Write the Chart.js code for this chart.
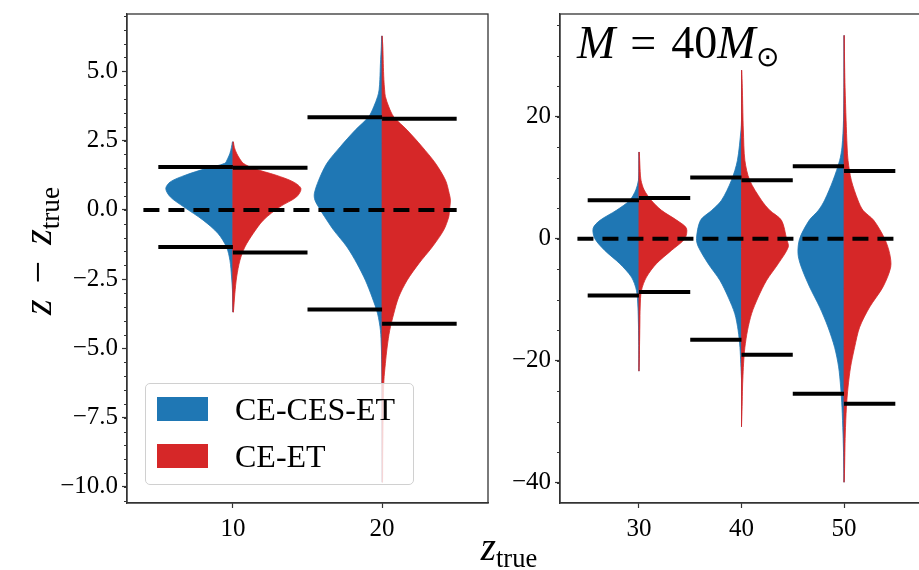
<!DOCTYPE html>
<html>
<head>
<meta charset="utf-8">
<script src="https://cdn.jsdelivr.net/npm/chart.js@4.4.1/dist/chart.umd.min.js"></script>
<style>
  html, body { margin: 0; padding: 0; background: #fff; overflow: hidden; }
  body { width: 919px; height: 570px; position: relative; font-family: "Liberation Serif", serif; color: #000; }
  canvas { position: absolute; top: 0; }
  #leftChart { left: 0; }
  #rightChart { left: 490px; }
  .sub { font-size: 0.68em; position: relative; top: 0.28em; font-style: normal; }
  #ylab { position: absolute; left: 38px; top: 251px; font-size: 40px; line-height: 1; white-space: nowrap;
          transform: translate(-50%, -50%) rotate(-90deg); }
  #xlab { position: absolute; left: 509px; top: 546px; font-size: 39px; line-height: 1; white-space: nowrap;
          transform: translate(-50%, -50%); }
  #title { position: absolute; left: 577px; top: 20px; font-size: 46px; line-height: 1; white-space: nowrap; }
  #legend { position: absolute; left: 145px; top: 383px; width: 269px; height: 102px; box-sizing: border-box;
            border: 1px solid #d0d0d0; border-radius: 5px; background: rgba(255,255,255,0.8); }
  .item { position: absolute; left: 11px; height: 26px; font-size: 32px; line-height: 26px; white-space: nowrap; }
  .sw { display: inline-block; width: 51px; height: 24px; vertical-align: top; margin-top: 1px; margin-right: 27px; }
</style>
</head>
<body>
<canvas id="leftChart" width="500" height="570"></canvas>
<canvas id="rightChart" width="440" height="570"></canvas>

<div id="ylab"><i>z</i><span style="margin:0 16px">−</span><i>z</i><span class="sub">true</span></div>
<div id="xlab"><i>z</i><span class="sub">true</span></div>
<div id="title"><i>M</i><span style="margin:0 15px">=</span>40<i>M</i><span class="sub" style="font-size:0.6em">⊙</span></div>
<div id="legend">
  <div class="item" style="top:12px"><span class="sw" style="background:#1f77b4"></span>CE-CES-ET</div>
  <div class="item" style="top:59px"><span class="sw" style="background:#d62728"></span>CE-ET</div>
</div>

<script>
const BLUE = "#1f77b4";
const RED = "#d62728";

// ---- left panel (z_true = 10, 20) ----
const leftCats = [10, 20];
const leftBlueHi = [1.55, 3.34];
const leftBlueLo = [-1.34, -3.6];
const leftRedHi = [1.52, 3.29];
const leftRedLo = [-1.54, -4.11];
const leftYTicks = [-10, -7.5, -5, -2.5, 0, 2.5, 5];

// violin profiles: y positions and half widths (x units)
const v10Y    = [2.46, 2.25, 2.04, 1.85, 1.68, 1.5, 1.25, 1.01, 0.77, 0.47, 0.11, -0.37, -0.85, -1.34, -1.82, -2.42, -3.02, -3.69];
const v10Blue = [0.03, 0.1, 0.2, 0.35, 0.55, 1.77, 3.2, 4.2, 4.5, 4.2, 3.3, 2.0, 1.0, 0.43, 0.2, 0.09, 0.02, 0];
const v10Red  = [0.03, 0.1, 0.25, 0.45, 0.7, 1.36, 2.9, 4.05, 4.56, 4.27, 3.15, 2.04, 1.36, 0.8, 0.47, 0.25, 0.13, 0.03];

const v20Y    = [6.28, 5.9, 5.29, 4.7, 4.33, 4.09, 3.72, 3.36, 2.88, 2.28, 1.68, 1.07, 0.59, 0.35, 0, -0.25, -0.73, -1.34, -1.94, -2.54, -3.15, -3.75, -4.35, -4.95, -5.55, -6.16, -7.0, -8.0, -9.0, -9.83];
const v20Blue = [0.03, 0.05, 0.11, 0.15, 0.2, 0.3, 0.56, 0.9, 1.8, 2.8, 3.7, 4.25, 4.54, 4.5, 4.14, 3.85, 3.25, 2.35, 1.68, 1.12, 0.67, 0.3, 0.11, 0.05, 0.02, 0, 0, 0, 0, 0];
const v20Red  = [0, 0.05, 0.08, 0.12, 0.17, 0.22, 0.45, 0.78, 1.68, 2.68, 3.58, 4.25, 4.5, 4.58, 4.52, 4.47, 4.13, 3.36, 2.46, 1.68, 1.11, 0.78, 0.51, 0.34, 0.22, 0.12, 0.08, 0.06, 0.04, 0.03];

// ---- right panel (z_true = 30, 40, 50) ----
const rightCats = [30, 40, 50];
const rightBlueHi = [6.3, 10.0, 11.85];
const rightBlueLo = [-9.3, -16.56, -25.4];
const rightRedHi = [6.66, 9.56, 11.1];
const rightRedLo = [-8.75, -19.0, -27.05];
const rightYTicks = [-40, -20, 0, 20];

const v30Y    = [14.2, 12.8, 11, 9.56, 8, 6.28, 4.64, 3.0, 1.7, 0, -1.92, -4.1, -6.3, -8.5, -11.2, -14, -16.1, -19, -21.7];
const v30Blue = [0, 0, 0, 0.05, 0.3, 0.9, 2.2, 3.8, 4.47, 4.3, 3.34, 1.87, 0.73, 0.24, 0.1, 0.05, 0.02, 0, 0];
const v30Red  = [0.03, 0.07, 0.12, 0.2, 0.5, 1.2, 2.2, 3.7, 4.63, 4.47, 3.17, 1.7, 0.73, 0.24, 0.12, 0.09, 0.07, 0.04, 0];

const v40Y    = [27.6, 24.8, 19.4, 17.8, 12.8, 9.56, 6.28, 4.64, 3.0, 0, -1.37, -4.1, -6.84, -9.57, -12.3, -15.0, -17.8, -20.5, -23, -24.3, -27.5, -30.8];
const v40Blue = [0, 0, 0, 0.05, 0.4, 0.98, 1.95, 2.9, 4.0, 4.39, 4.2, 3.25, 2.1, 1.3, 0.65, 0.33, 0.15, 0.07, 0, 0, 0, 0];
const v40Red  = [0.03, 0.08, 0.15, 0.18, 0.33, 0.8, 1.95, 2.76, 3.9, 4.39, 4.56, 3.58, 2.44, 1.63, 0.98, 0.59, 0.33, 0.2, 0.13, 0.1, 0.06, 0];

const v50Y    = [33.3, 28, 24.8, 19.4, 15, 12.8, 9.56, 6.28, 4.64, 3.0, 0, -2.46, -4.65, -7.9, -11.2, -14.5, -17.8, -21.0, -24.3, -27.6, -32, -35, -38.5, -39.9];
const v50Blue = [0, 0, 0, 0.05, 0.2, 0.43, 1.07, 1.9, 2.5, 3.4, 4.33, 4.49, 4.17, 3.36, 2.38, 1.56, 0.92, 0.53, 0.33, 0.2, 0.1, 0.05, 0.01, 0];
const v50Red  = [0.02, 0.06, 0.1, 0.2, 0.3, 0.39, 0.71, 1.36, 1.85, 2.9, 3.96, 4.45, 4.55, 3.8, 2.5, 1.52, 1.03, 0.64, 0.39, 0.23, 0.12, 0.08, 0.04, 0];

const PCT_HALF = 5;           // percentile bars span half a slot
const leftZeroLine = [4, 25];
const rightZeroLine = [24, 55];

const tickFont = { family: "'Liberation Serif', serif", size: 25 };

// half violin as a closed polygon: outer edge down, then back up the centre
function halfViolin(c, ys, ws, side) {
  const pts = ys.map((y, i) => ({ x: c + side * ws[i], y }));
  pts.push({ x: c, y: ys[ys.length - 1] });
  pts.push({ x: c, y: ys[0] });
  return pts;
}

function violinSet(c, ys, ws, side) {
  const color = side < 0 ? BLUE : RED;
  return {
    data: halfViolin(c, ys, ws, side),
    borderColor: color,
    backgroundColor: color,
    borderWidth: 0.8,
    fill: "shape",
    pointRadius: 0,
    tension: 0.3,
    order: side < 0 ? 3 : 2
  };
}

function segment(x0, x1, y, dash) {
  return {
    data: [{ x: x0, y }, { x: x1, y }],
    borderColor: "#000",
    borderWidth: 4,
    borderDash: dash || [],
    borderCapStyle: "butt",
    fill: false,
    pointRadius: 0,
    order: 0
  };
}

function percentileSets(cats, bHi, bLo, rHi, rLo) {
  const out = [];
  cats.forEach((c, i) => {
    out.push(segment(c - PCT_HALF, c, bHi[i]));
    out.push(segment(c - PCT_HALF, c, bLo[i]));
    out.push(segment(c, c + PCT_HALF, rHi[i]));
    out.push(segment(c, c + PCT_HALF, rLo[i]));
  });
  return out;
}

function fmt(v, digits) {
  return (v < 0 ? "\u2212" : "") + Math.abs(v).toFixed(digits);
}

const framePlugin = {
  id: "frame",
  afterDraw(chart, args, opts) {
    const { ctx, chartArea: a, scales } = chart;
    ctx.save();
    ctx.strokeStyle = "#333";
    ctx.lineWidth = 1.3;
    ctx.strokeRect(a.left, a.top, a.right - a.left, a.bottom - a.top);
    // minor ticks on y
    const y = scales.y;
    ctx.lineWidth = 1;
    const n0 = Math.ceil(y.min / opts.minorStep);
    const n1 = Math.floor(y.max / opts.minorStep);
    for (let n = n0; n <= n1; n++) {
      const py = Math.round(y.getPixelForValue(n * opts.minorStep)) + 0.5;
      ctx.beginPath();
      ctx.moveTo(a.left - 3, py);
      ctx.lineTo(a.left, py);
      ctx.stroke();
    }
    ctx.restore();
  }
};

function makeChart(id, cfg) {
  return new Chart(document.getElementById(id), {
    type: "line",
    data: { datasets: cfg.datasets },
    options: {
      responsive: false,
      animation: false,
      layout: { padding: { top: 14, right: cfg.padRight, bottom: 0, left: 0 } },
      plugins: {
        legend: { display: false },
        tooltip: { enabled: false },
        frame: { minorStep: cfg.minorStep }
      },
      scales: {
        x: {
          type: "linear",
          min: cfg.xMin,
          max: cfg.xMax,
          afterBuildTicks: s => { s.ticks = cfg.xTicks.map(v => ({ value: v })); },
          afterFit: s => { s.height = 67; s.paddingLeft = 0; s.paddingRight = 0; },
          ticks: { font: tickFont, color: "#000", padding: 6, autoSkip: false, maxRotation: 0,
                   callback: v => String(v) },
          grid: { drawOnChartArea: false, tickLength: 5, tickWidth: 1.2, tickColor: "#333" },
          border: { color: "#333", width: 1.3 }
        },
        y: {
          type: "linear",
          min: cfg.yMin,
          max: cfg.yMax,
          afterBuildTicks: s => { s.ticks = cfg.yTicks.map(v => ({ value: v })); },
          afterFit: s => { s.width = cfg.yWidth; s.paddingTop = 0; s.paddingBottom = 0; },
          ticks: { font: tickFont, color: "#000", padding: 4, autoSkip: false,
                   callback: v => fmt(v, cfg.digits) },
          grid: { drawOnChartArea: false, tickLength: 5, tickWidth: 1.2, tickColor: "#333" },
          border: { color: "#333", width: 1.3 }
        }
      }
    },
    plugins: [framePlugin]
  });
}

makeChart("leftChart", {
  datasets: [
    segment(leftZeroLine[0], leftZeroLine[1], 0, [16, 9]),
    ...percentileSets(leftCats, leftBlueHi, leftBlueLo, leftRedHi, leftRedLo),
    violinSet(10, v10Y, v10Red, 1),
    violinSet(20, v20Y, v20Red, 1),
    violinSet(10, v10Y, v10Blue, -1),
    violinSet(20, v20Y, v20Blue, -1)
  ],
  xMin: 2.9, xMax: 27.1, xTicks: leftCats,
  yMin: -10.58, yMax: 7.07, yTicks: leftYTicks, digits: 1,
  yWidth: 127, padRight: 12, minorStep: 0.5
});

makeChart("rightChart", {
  datasets: [
    segment(rightZeroLine[0], rightZeroLine[1], 0, [16, 9]),
    ...percentileSets(rightCats, rightBlueHi, rightBlueLo, rightRedHi, rightRedLo),
    violinSet(30, v30Y, v30Red, 1),
    violinSet(40, v40Y, v40Red, 1),
    violinSet(50, v50Y, v50Red, 1),
    violinSet(30, v30Y, v30Blue, -1),
    violinSet(40, v40Y, v40Blue, -1),
    violinSet(50, v50Y, v50Blue, -1)
  ],
  xMin: 22.3, xMax: 57.7, xTicks: rightCats,
  yMin: -43.3, yMax: 36.8, yTicks: rightYTicks, digits: 0,
  yWidth: 70, padRight: 7, minorStep: 5
});
</script>
</body>
</html>
